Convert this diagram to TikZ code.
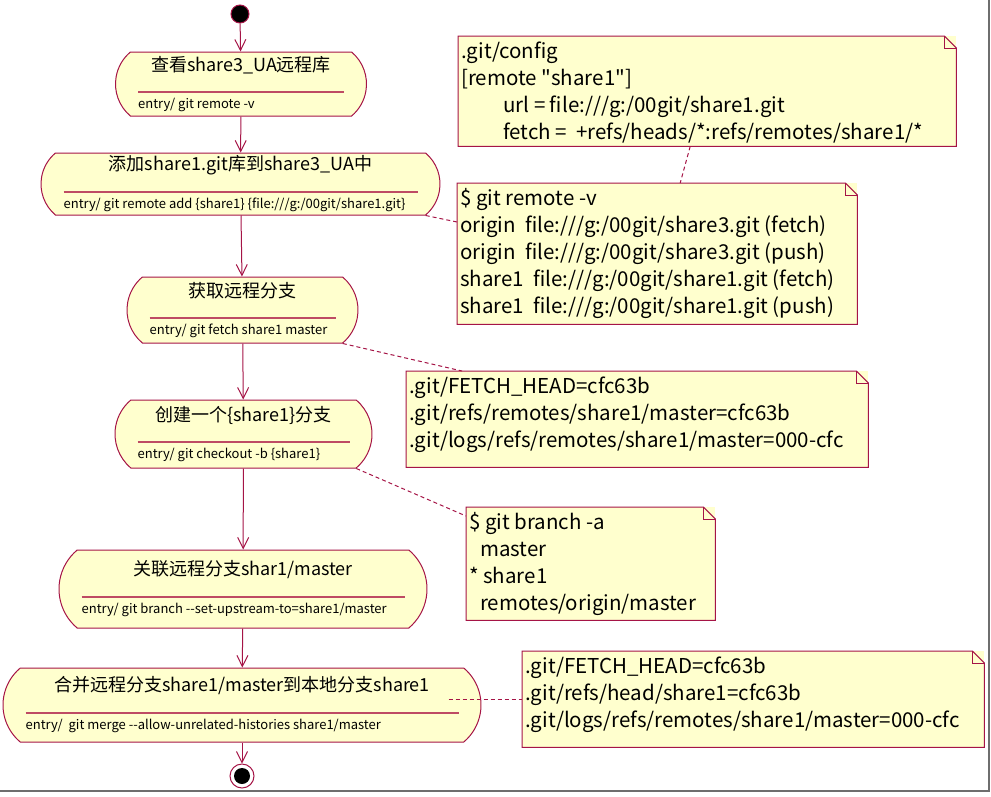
\documentclass[tikz,border=0pt]{standalone}
\usepackage{fontspec}
\usepackage{xcolor}
\usepackage{tikz}
\usetikzlibrary{shapes.misc,arrows.meta,positioning}
\setmainfont{Noto Sans CJK SC}
\newfontfamily\plainquote{Noto Sans CJK SC}
\definecolor{umlred}{RGB}{165,20,70}
\definecolor{sepred}{RGB}{190,75,100}
\definecolor{notefill}{RGB}{255,255,206}
\definecolor{shadowgray}{RGB}{110,110,110}

% state: name, position, width, height, title, entry action
\newcommand{\umlstate}[6]{%
  \node[statebox, minimum width=#3, minimum height=#4] (#1) at (#2) {};
  \node[statetitle] (#1-title) at ([yshift=19pt]#1.center) {#5};
  \draw[sepline] ([xshift=23pt,yshift=-8pt]#1.west) -- ([xshift=-23pt,yshift=-8pt]#1.east);
  \node[stateentry] (#1-entry) at ([xshift=23pt,yshift=-21pt]#1.west) {#6};
}
% note with folded corner: name, top left, text width, text height, lines
\newcommand{\umlnote}[5]{%
  \node[notebox] (#1) at (#2) {\parbox[t][#4][t]{#3}{\strut#5}};
  \draw[umlred, line width=1pt] (#1.north west) -- ([xshift=-12pt]#1.north east) -- ([yshift=-12pt]#1.north east) |- (#1.south west) -- cycle;
  \draw[umlred, line width=1pt] ([xshift=-12pt]#1.north east) |- ([yshift=-12pt]#1.north east);
}

\begin{document}
\begin{tikzpicture}[x=1pt, y=-1pt,
  statebox/.style={rounded rectangle, rounded rectangle arc length=100, draw=umlred, line width=1pt, fill=notefill, inner sep=0pt},
  statetitle/.style={font=\fontsize{18}{21}\selectfont, inner sep=1pt},
  stateentry/.style={anchor=west, font=\fontsize{13}{15}\selectfont, inner sep=0pt},
  sepline/.style={draw=sepred, line width=1.6pt},
  notebox/.style={anchor=north west, fill=notefill, inner xsep=3pt, inner ysep=3pt, font=\fontsize{20.5}{27}\selectfont},
  flow/.style={draw=umlred, line width=1pt, -{Straight Barb[length=11pt,width=11pt]}},
  noteconn/.style={draw=umlred, line width=1pt, dash pattern=on 4pt off 3pt},
  initial/.style={circle, fill=black, draw=umlred, line width=1pt, minimum size=18pt, inner sep=0pt},
  final/.style={circle, draw=umlred, line width=1pt, minimum size=24pt, inner sep=0pt,
    path picture={\fill[black] (path picture bounding box.center) circle (8pt);}}]
\useasboundingbox (0,0) rectangle (991,796);
\draw[shadowgray, line width=2pt] (989,0) -- (989,791) -- (0,791);

\node[initial] (start) at (240,14) {};
\umlstate{s1}{241,84}{251pt}{64pt}{查看share3\_UA远程库}{entry/ git remote -v}
\umlstate{s2}{240.5,184}{399pt}{62pt}{添加share1.git库到share3\_UA中}{entry/ git remote add \{share1\} \{file:///g:/00git/share1.git\}}
\umlstate{s3}{242.5,310}{231pt}{66pt}{获取远程分支}{entry/ git fetch share1 master}
\umlstate{s4}{243.5,434}{257pt}{68pt}{创建一个\{share1\}分支}{entry/ git checkout -b \{share1\}}
\umlstate{s5}{243,589}{368pt}{78pt}{关联远程分支shar1/master}{entry/ git branch -{}-set-upstream-to=share1/master}
\umlstate{s6}{242,705}{478pt}{74pt}{合并远程分支share1/master到本地分支share1}{entry/~ git merge -{}-allow-unrelated-histories share1/master}
\node[final] (end) at (242,776) {};

\draw[flow] (start) -- (s1);
\draw[flow] (s1) -- (s2);
\draw[flow] (s2) -- (s3);
\draw[flow] (s3) -- (s4);
\draw[flow] (s4) -- (s5);
\draw[flow] (s5) -- (s6);
\draw[flow] (s6) -- (end);

\umlnote{config}{458,36}{492pt}{104pt}{.git/config\\
{[}remote {\plainquote"}share1{\plainquote"}{]}\\
\hspace*{42pt}url = file:///g:/00git/share1.git\\
\hspace*{42pt}fetch = ~+refs/heads/*:refs/remotes/share1/*}
\umlnote{remotes}{457,183}{394pt}{135pt}{\$ git remote -v\\
origin~ file:///g:/00git/share3.git (fetch)\\
origin~ file:///g:/00git/share3.git (push)\\
share1~ file:///g:/00git/share1.git (fetch)\\
share1~ file:///g:/00git/share1.git (push)}
\umlnote{fetched}{406,371}{456pt}{90pt}{.git/FETCH\_HEAD=cfc63b\\
.git/refs/remotes/share1/master=cfc63b\\
.git/logs/refs/remotes/share1/master=000-cfc}
\umlnote{branches}{466,507}{243pt}{107pt}{\$ git branch -a\\
\hspace*{11pt}master\\
{*} share1\\
\hspace*{11pt}remotes/origin/master}
\umlnote{merged}{522,651}{456pt}{90pt}{.git/FETCH\_HEAD=cfc63b\\
.git/refs/head/share1=cfc63b\\
.git/logs/refs/remotes/share1/master=000-cfc}

\draw[noteconn] ([xshift=-17pt]config.south) -- ([xshift=23pt]remotes.north);
\draw[noteconn] (s2.south east) -- ([yshift=-39pt]remotes.north west);
\draw[noteconn] (s3.south east) -- ([xshift=56pt]fetched.north west);
\draw[noteconn] (s4.south east) -- ([yshift=-9pt]branches.north west);
\draw[noteconn] ([xshift=-33pt]s6.east |- merged.west) -- (merged.west);
\end{tikzpicture}
\end{document}
